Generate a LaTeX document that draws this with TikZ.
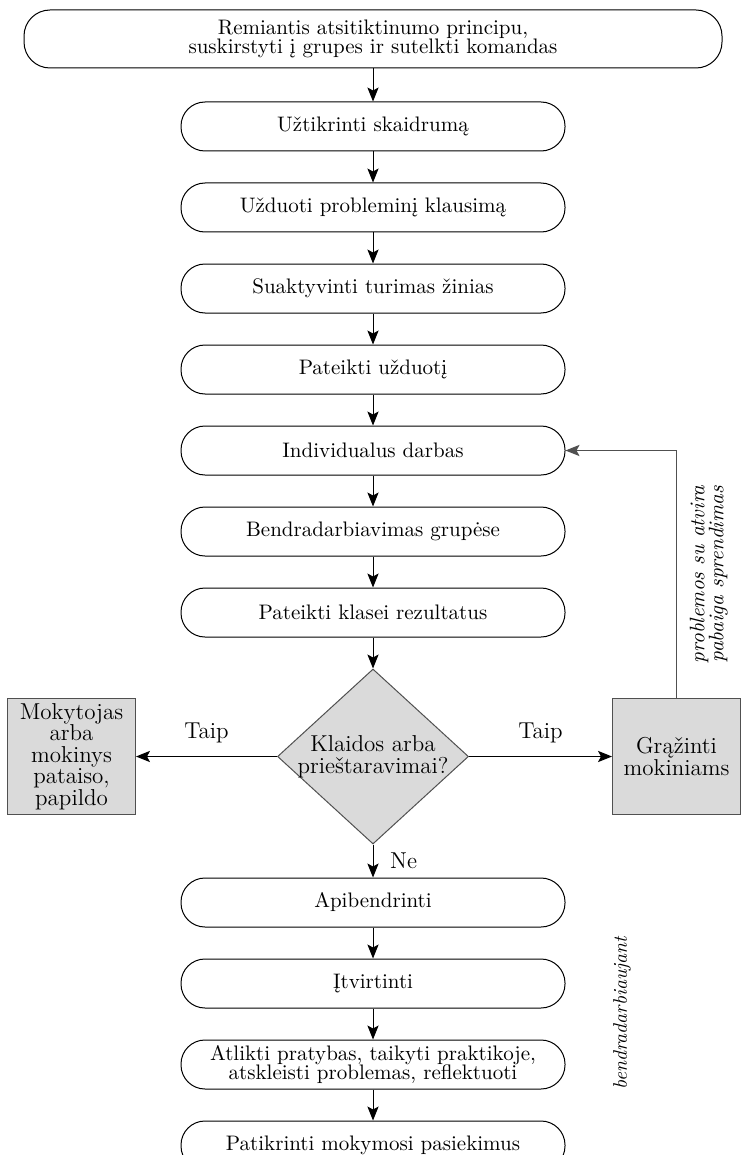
\documentclass[tikz,border=0pt]{standalone}
\usepackage{fontspec}
\usetikzlibrary{positioning,arrows.meta,shapes.geometric}
\definecolor{PanelGray}{RGB}{218,218,218}
\definecolor{EdgeGray}{RGB}{80,80,80}
\newcommand{\stepfont}{\fontsize{10.5}{9.6}\selectfont}
\newcommand{\sidefont}{\fontsize{11.5}{10.8}\selectfont}
\tikzset{
  flow/.style={-{Stealth[length=7pt,width=5.6pt,inset=1.5pt]},line width=0.5pt,draw=black},
  backflow/.style={-{Stealth[length=7pt,width=5.6pt,inset=1.5pt]},line width=0.5pt,draw=EdgeGray},
  stepbox/.style={draw,line width=0.5pt,rounded corners=12pt,minimum width=192pt,
    minimum height=24.5pt,inner ysep=0pt,align=center,font=\stepfont},
  topbox/.style={stepbox,minimum width=349pt,minimum height=29pt,rounded corners=13pt},
  decision/.style={diamond,draw=EdgeGray,fill=PanelGray,line width=0.5pt,inner sep=-8pt,
    minimum width=95.5pt,minimum height=87.5pt,align=center,font=\sidefont},
  sidebox/.style={draw=EdgeGray,fill=PanelGray,line width=0.5pt,minimum width=64pt,
    minimum height=58pt,inner sep=1pt,align=center,font=\sidefont},
  branch/.style={font=\sidefont},
  notelabel/.style={font=\stepfont\itshape,align=center}
}
\begin{document}
\begin{tikzpicture}[x=0.5pt,y=-0.5pt,node distance=15.5pt]
  \useasboundingbox (0,0) rectangle (740,1155);
  % main column
  \node[topbox] (grouping) at (373,39) {Remiantis atsitiktinumo principu,\\suskirstyti į grupes ir sutelkti komandas};
  \node[stepbox,below=16.5pt of grouping] (clarity) {Užtikrinti skaidrumą};
  \node[stepbox,below=of clarity] (question) {Užduoti probleminį klausimą};
  \node[stepbox,below=of question] (prior) {Suaktyvinti turimas žinias};
  \node[stepbox,below=of prior] (task) {Pateikti užduotį};
  \node[stepbox,below=of task] (individual) {Individualus darbas};
  \node[stepbox,below=of individual] (groupwork) {Bendradarbiavimas grupėse};
  \node[stepbox,below=of groupwork] (present) {Pateikti klasei rezultatus};
  \node[decision,below=of present] (errors) {Klaidos arba\\prieštaravimai?};
  \node[stepbox,below=16.5pt of errors] (summary) {Apibendrinti};
  \node[stepbox,below=of summary] (consolidate) {Įtvirtinti};
  \node[stepbox,below=of consolidate] (practice) {Atlikti pratybas, taikyti praktikoje,\\atskleisti problemas, reflektuoti};
  \node[stepbox,below=of practice] (assess) {Patikrinti mokymosi pasiekimus};
  % side boxes
  \node[sidebox,left=70.5pt of errors] (correct) {Mokytojas\\arba\\mokinys\\pataiso,\\papildo};
  \node[sidebox,right=71.5pt of errors] (giveback) {Grąžinti\\mokiniams};
  \node[notelabel,rotate=90,font=\fontsize{9.8}{10}\selectfont\itshape] (jointly) at (622,1013) {bendradarbiaujant};
  % connectors
  \draw[flow] (grouping) -- (clarity);
  \draw[flow] (clarity) -- (question);
  \draw[flow] (question) -- (prior);
  \draw[flow] (prior) -- (task);
  \draw[flow] (task) -- (individual);
  \draw[flow] (individual) -- (groupwork);
  \draw[flow] (groupwork) -- (present);
  \draw[flow] (present) -- (errors);
  \draw[flow] (errors) -- node[branch,right=5pt] {Ne} (summary);
  \draw[flow] (summary) -- (consolidate);
  \draw[flow] (consolidate) -- (practice);
  \draw[flow] (practice) -- (assess);
  \draw[flow] (errors) -- node[branch,above=3pt] {Taip} (correct);
  \draw[flow] (errors) -- node[branch,above=3pt] {Taip} (giveback);
  \draw[backflow] (giveback.north) -- node[notelabel,midway,sloped,below=3pt] {problemos su atvira\\pabaiga sprendimas} (giveback.north |- individual.east) -- (individual.east);
\end{tikzpicture}
\end{document}
